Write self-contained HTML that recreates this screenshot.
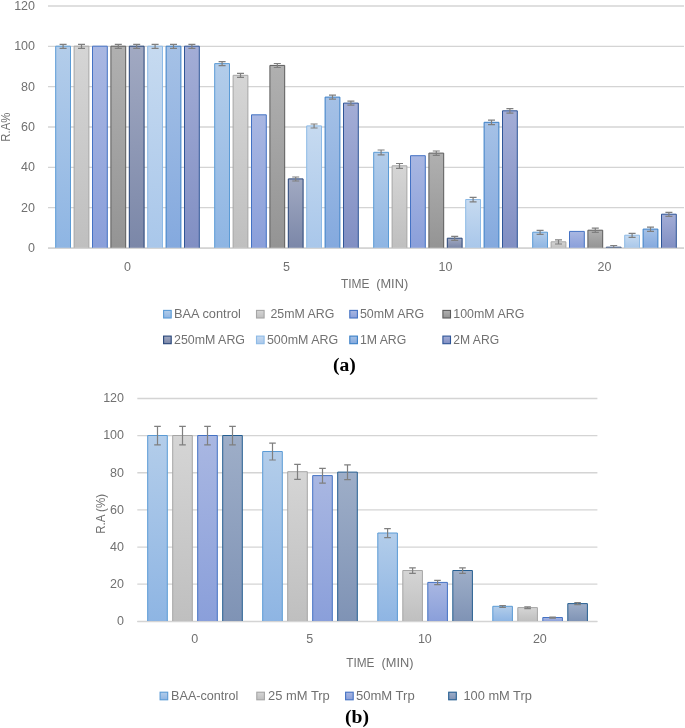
<!DOCTYPE html>
<html><head><meta charset="utf-8"><style>
html,body{margin:0;padding:0;background:#fff;width:685px;height:728px;overflow:hidden}
svg{display:block;will-change:transform}
.e{stroke:#7f7f7f;stroke-width:1.2;fill:none}
</style></head><body>
<svg width="685" height="728" viewBox="0 0 685 728">
<defs><linearGradient id="ag0" x2="0" y2="1"><stop offset="0" stop-color="#b3cdea"/><stop offset="1" stop-color="#8eb5e3"/></linearGradient>
<linearGradient id="ag1" x2="0" y2="1"><stop offset="0" stop-color="#d5d5d5"/><stop offset="1" stop-color="#bfbfbf"/></linearGradient>
<linearGradient id="ag2" x2="0" y2="1"><stop offset="0" stop-color="#a9b7e2"/><stop offset="1" stop-color="#8a9fda"/></linearGradient>
<linearGradient id="ag3" x2="0" y2="1"><stop offset="0" stop-color="#b0b0b0"/><stop offset="1" stop-color="#949494"/></linearGradient>
<linearGradient id="ag4" x2="0" y2="1"><stop offset="0" stop-color="#a1a9c2"/><stop offset="1" stop-color="#7b87a8"/></linearGradient>
<linearGradient id="ag5" x2="0" y2="1"><stop offset="0" stop-color="#c6daf0"/><stop offset="1" stop-color="#a9c7ea"/></linearGradient>
<linearGradient id="ag6" x2="0" y2="1"><stop offset="0" stop-color="#a5c1e6"/><stop offset="1" stop-color="#84a9de"/></linearGradient>
<linearGradient id="ag7" x2="0" y2="1"><stop offset="0" stop-color="#a3add6"/><stop offset="1" stop-color="#818fc3"/></linearGradient>
<linearGradient id="bg0" x2="0" y2="1"><stop offset="0" stop-color="#b3cdea"/><stop offset="1" stop-color="#8eb5e3"/></linearGradient>
<linearGradient id="bg1" x2="0" y2="1"><stop offset="0" stop-color="#d5d5d5"/><stop offset="1" stop-color="#bfbfbf"/></linearGradient>
<linearGradient id="bg2" x2="0" y2="1"><stop offset="0" stop-color="#a9b7e2"/><stop offset="1" stop-color="#8a9fda"/></linearGradient>
<linearGradient id="bg3" x2="0" y2="1"><stop offset="0" stop-color="#9eaec8"/><stop offset="1" stop-color="#7f93b5"/></linearGradient>
</defs>
<line x1="48" y1="248.00" x2="684" y2="248.00" stroke="#d4d4d4" stroke-width="1.3"/>
<line x1="48" y1="207.67" x2="684" y2="207.67" stroke="#d4d4d4" stroke-width="1.3"/>
<line x1="48" y1="167.33" x2="684" y2="167.33" stroke="#d4d4d4" stroke-width="1.3"/>
<line x1="48" y1="127.00" x2="684" y2="127.00" stroke="#d4d4d4" stroke-width="1.3"/>
<line x1="48" y1="86.67" x2="684" y2="86.67" stroke="#d4d4d4" stroke-width="1.3"/>
<line x1="48" y1="46.33" x2="684" y2="46.33" stroke="#d4d4d4" stroke-width="1.3"/>
<line x1="48" y1="6.00" x2="684" y2="6.00" stroke="#d4d4d4" stroke-width="1.3"/>
<rect x="55.7" y="46.2" width="14.8" height="201.8" fill="url(#ag0)"/><path d="M55.7 248.0V46.2H70.5V248.0" fill="none" stroke="#5b9bd5"/>
<rect x="74.1" y="46.2" width="14.8" height="201.8" fill="url(#ag1)"/><path d="M74.1 248.0V46.2H88.9V248.0" fill="none" stroke="#a5a5a5"/>
<rect x="92.5" y="46.2" width="14.8" height="201.8" fill="url(#ag2)"/><path d="M92.5 248.0V46.2H107.3V248.0" fill="none" stroke="#4472c4"/>
<rect x="110.9" y="46.2" width="14.8" height="201.8" fill="url(#ag3)"/><path d="M110.9 248.0V46.2H125.7V248.0" fill="none" stroke="#5c5c5c"/>
<rect x="129.3" y="46.2" width="14.8" height="201.8" fill="url(#ag4)"/><path d="M129.3 248.0V46.2H144.1V248.0" fill="none" stroke="#264478"/>
<rect x="147.7" y="46.2" width="14.8" height="201.8" fill="url(#ag5)"/><path d="M147.7 248.0V46.2H162.5V248.0" fill="none" stroke="#8dbae6"/>
<rect x="166.1" y="46.2" width="14.8" height="201.8" fill="url(#ag6)"/><path d="M166.1 248.0V46.2H180.9V248.0" fill="none" stroke="#3a7fc6"/>
<rect x="184.5" y="46.2" width="14.8" height="201.8" fill="url(#ag7)"/><path d="M184.5 248.0V46.2H199.3V248.0" fill="none" stroke="#2f5597"/>
<rect x="214.7" y="63.6" width="14.8" height="184.4" fill="url(#ag0)"/><path d="M214.7 248.0V63.6H229.5V248.0" fill="none" stroke="#5b9bd5"/>
<rect x="233.1" y="75.3" width="14.8" height="172.7" fill="url(#ag1)"/><path d="M233.1 248.0V75.3H247.9V248.0" fill="none" stroke="#a5a5a5"/>
<rect x="251.5" y="114.8" width="14.8" height="133.2" fill="url(#ag2)"/><path d="M251.5 248.0V114.8H266.3V248.0" fill="none" stroke="#4472c4"/>
<rect x="269.9" y="65.4" width="14.8" height="182.6" fill="url(#ag3)"/><path d="M269.9 248.0V65.4H284.7V248.0" fill="none" stroke="#5c5c5c"/>
<rect x="288.3" y="178.9" width="14.8" height="69.1" fill="url(#ag4)"/><path d="M288.3 248.0V178.9H303.1V248.0" fill="none" stroke="#264478"/>
<rect x="306.7" y="125.9" width="14.8" height="122.1" fill="url(#ag5)"/><path d="M306.7 248.0V125.9H321.5V248.0" fill="none" stroke="#8dbae6"/>
<rect x="325.1" y="97.1" width="14.8" height="150.9" fill="url(#ag6)"/><path d="M325.1 248.0V97.1H339.9V248.0" fill="none" stroke="#3a7fc6"/>
<rect x="343.5" y="103.1" width="14.8" height="144.9" fill="url(#ag7)"/><path d="M343.5 248.0V103.1H358.3V248.0" fill="none" stroke="#2f5597"/>
<rect x="373.7" y="152.3" width="14.8" height="95.7" fill="url(#ag0)"/><path d="M373.7 248.0V152.3H388.5V248.0" fill="none" stroke="#5b9bd5"/>
<rect x="392.1" y="165.8" width="14.8" height="82.2" fill="url(#ag1)"/><path d="M392.1 248.0V165.8H406.9V248.0" fill="none" stroke="#a5a5a5"/>
<rect x="410.5" y="155.7" width="14.8" height="92.3" fill="url(#ag2)"/><path d="M410.5 248.0V155.7H425.3V248.0" fill="none" stroke="#4472c4"/>
<rect x="428.9" y="153.1" width="14.8" height="94.9" fill="url(#ag3)"/><path d="M428.9 248.0V153.1H443.7V248.0" fill="none" stroke="#5c5c5c"/>
<rect x="447.3" y="238.2" width="14.8" height="9.8" fill="url(#ag4)"/><path d="M447.3 248.0V238.2H462.1V248.0" fill="none" stroke="#264478"/>
<rect x="465.7" y="199.5" width="14.8" height="48.5" fill="url(#ag5)"/><path d="M465.7 248.0V199.5H480.5V248.0" fill="none" stroke="#8dbae6"/>
<rect x="484.1" y="122.3" width="14.8" height="125.7" fill="url(#ag6)"/><path d="M484.1 248.0V122.3H498.9V248.0" fill="none" stroke="#3a7fc6"/>
<rect x="502.5" y="110.8" width="14.8" height="137.2" fill="url(#ag7)"/><path d="M502.5 248.0V110.8H517.3V248.0" fill="none" stroke="#2f5597"/>
<rect x="532.7" y="232.2" width="14.8" height="15.8" fill="url(#ag0)"/><path d="M532.7 248.0V232.2H547.5V248.0" fill="none" stroke="#5b9bd5"/>
<rect x="551.1" y="241.8" width="14.8" height="6.2" fill="url(#ag1)"/><path d="M551.1 248.0V241.8H565.9V248.0" fill="none" stroke="#a5a5a5"/>
<rect x="569.5" y="231.4" width="14.8" height="16.6" fill="url(#ag2)"/><path d="M569.5 248.0V231.4H584.3V248.0" fill="none" stroke="#4472c4"/>
<rect x="587.9" y="230.2" width="14.8" height="17.8" fill="url(#ag3)"/><path d="M587.9 248.0V230.2H602.7V248.0" fill="none" stroke="#5c5c5c"/>
<rect x="606.3" y="247.2" width="14.8" height="0.8" fill="url(#ag4)"/><path d="M606.3 248.0V247.2H621.1V248.0" fill="none" stroke="#264478"/>
<rect x="624.7" y="235.2" width="14.8" height="12.8" fill="url(#ag5)"/><path d="M624.7 248.0V235.2H639.5V248.0" fill="none" stroke="#8dbae6"/>
<rect x="643.1" y="229.1" width="14.8" height="18.9" fill="url(#ag6)"/><path d="M643.1 248.0V229.1H657.9V248.0" fill="none" stroke="#3a7fc6"/>
<rect x="661.5" y="214.2" width="14.8" height="33.8" fill="url(#ag7)"/><path d="M661.5 248.0V214.2H676.3V248.0" fill="none" stroke="#2f5597"/>
<line x1="48" y1="248.30" x2="684" y2="248.30" stroke="#d4d4d4" stroke-width="1.3"/>
<path class="e" d="M63.1 44.3V48.3M59.6 44.3h7M59.6 48.3h7"/>
<path class="e" d="M81.5 44.3V48.3M78.0 44.3h7M78.0 48.3h7"/>
<path class="e" d="M118.3 44.3V48.3M114.8 44.3h7M114.8 48.3h7"/>
<path class="e" d="M136.7 44.3V48.3M133.2 44.3h7M133.2 48.3h7"/>
<path class="e" d="M155.1 44.3V48.3M151.6 44.3h7M151.6 48.3h7"/>
<path class="e" d="M173.5 44.3V48.3M170.0 44.3h7M170.0 48.3h7"/>
<path class="e" d="M191.9 44.3V48.3M188.4 44.3h7M188.4 48.3h7"/>
<path class="e" d="M222.1 61.7V65.7M218.6 61.7h7M218.6 65.7h7"/>
<path class="e" d="M240.5 73.4V77.4M237.0 73.4h7M237.0 77.4h7"/>
<path class="e" d="M277.3 63.5V67.5M273.8 63.5h7M273.8 67.5h7"/>
<path class="e" d="M295.7 177.0V181.0M292.2 177.0h7M292.2 181.0h7"/>
<path class="e" d="M314.1 124.0V128.0M310.6 124.0h7M310.6 128.0h7"/>
<path class="e" d="M332.5 95.1V99.2M329.0 95.1h7M329.0 99.2h7"/>
<path class="e" d="M350.9 101.2V105.2M347.4 101.2h7M347.4 105.2h7"/>
<path class="e" d="M381.1 150.0V154.8M377.6 150.0h7M377.6 154.8h7"/>
<path class="e" d="M399.5 163.5V168.3M396.0 163.5h7M396.0 168.3h7"/>
<path class="e" d="M436.3 151.0V155.4M432.8 151.0h7M432.8 155.4h7"/>
<path class="e" d="M454.7 236.3V240.3M451.2 236.3h7M451.2 240.3h7"/>
<path class="e" d="M473.1 197.4V201.8M469.6 197.4h7M469.6 201.8h7"/>
<path class="e" d="M491.5 120.1V124.6M488.0 120.1h7M488.0 124.6h7"/>
<path class="e" d="M509.9 108.6V113.1M506.4 108.6h7M506.4 113.1h7"/>
<path class="e" d="M540.1 230.3V234.3M536.6 230.3h7M536.6 234.3h7"/>
<path class="e" d="M558.5 239.9V244.0M555.0 239.9h7M555.0 244.0h7"/>
<path class="e" d="M595.3 228.2V232.3M591.8 228.2h7M591.8 232.3h7"/>
<path class="e" d="M613.7 245.5V248.0M610.2 245.5h7"/>
<path class="e" d="M632.1 233.3V237.3M628.6 233.3h7M628.6 237.3h7"/>
<path class="e" d="M650.5 227.2V231.3M647.0 227.2h7M647.0 231.3h7"/>
<path class="e" d="M668.9 212.3V216.3M665.4 212.3h7M665.4 216.3h7"/>
<line x1="137.3" y1="621.30" x2="597.4" y2="621.30" stroke="#d4d4d4" stroke-width="1.3"/>
<line x1="137.3" y1="584.17" x2="597.4" y2="584.17" stroke="#d4d4d4" stroke-width="1.3"/>
<line x1="137.3" y1="547.03" x2="597.4" y2="547.03" stroke="#d4d4d4" stroke-width="1.3"/>
<line x1="137.3" y1="509.90" x2="597.4" y2="509.90" stroke="#d4d4d4" stroke-width="1.3"/>
<line x1="137.3" y1="472.77" x2="597.4" y2="472.77" stroke="#d4d4d4" stroke-width="1.3"/>
<line x1="137.3" y1="435.63" x2="597.4" y2="435.63" stroke="#d4d4d4" stroke-width="1.3"/>
<line x1="137.3" y1="398.50" x2="597.4" y2="398.50" stroke="#d4d4d4" stroke-width="1.3"/>
<rect x="147.7" y="435.5" width="19.6" height="185.8" fill="url(#bg0)"/><path d="M147.7 621.3V435.5H167.3V621.3" fill="none" stroke="#5b9bd5"/>
<rect x="172.7" y="435.5" width="19.6" height="185.8" fill="url(#bg1)"/><path d="M172.7 621.3V435.5H192.3V621.3" fill="none" stroke="#a5a5a5"/>
<rect x="197.7" y="435.5" width="19.6" height="185.8" fill="url(#bg2)"/><path d="M197.7 621.3V435.5H217.3V621.3" fill="none" stroke="#4472c4"/>
<rect x="222.7" y="435.5" width="19.6" height="185.8" fill="url(#bg3)"/><path d="M222.7 621.3V435.5H242.3V621.3" fill="none" stroke="#255e91"/>
<rect x="262.7" y="451.5" width="19.6" height="169.8" fill="url(#bg0)"/><path d="M262.7 621.3V451.5H282.3V621.3" fill="none" stroke="#5b9bd5"/>
<rect x="287.7" y="471.7" width="19.6" height="149.6" fill="url(#bg1)"/><path d="M287.7 621.3V471.7H307.3V621.3" fill="none" stroke="#a5a5a5"/>
<rect x="312.7" y="475.6" width="19.6" height="145.7" fill="url(#bg2)"/><path d="M312.7 621.3V475.6H332.3V621.3" fill="none" stroke="#4472c4"/>
<rect x="337.7" y="472.1" width="19.6" height="149.2" fill="url(#bg3)"/><path d="M337.7 621.3V472.1H357.3V621.3" fill="none" stroke="#255e91"/>
<rect x="377.8" y="533.0" width="19.6" height="88.3" fill="url(#bg0)"/><path d="M377.8 621.3V533.0H397.4V621.3" fill="none" stroke="#5b9bd5"/>
<rect x="402.8" y="570.5" width="19.6" height="50.8" fill="url(#bg1)"/><path d="M402.8 621.3V570.5H422.4V621.3" fill="none" stroke="#a5a5a5"/>
<rect x="427.8" y="582.4" width="19.6" height="38.9" fill="url(#bg2)"/><path d="M427.8 621.3V582.4H447.4V621.3" fill="none" stroke="#4472c4"/>
<rect x="452.8" y="570.5" width="19.6" height="50.8" fill="url(#bg3)"/><path d="M452.8 621.3V570.5H472.4V621.3" fill="none" stroke="#255e91"/>
<rect x="492.8" y="606.3" width="19.6" height="15.0" fill="url(#bg0)"/><path d="M492.8 621.3V606.3H512.4V621.3" fill="none" stroke="#5b9bd5"/>
<rect x="517.8" y="607.6" width="19.6" height="13.7" fill="url(#bg1)"/><path d="M517.8 621.3V607.6H537.4V621.3" fill="none" stroke="#a5a5a5"/>
<rect x="542.8" y="617.5" width="19.6" height="3.8" fill="url(#bg2)"/><path d="M542.8 621.3V617.5H562.4V621.3" fill="none" stroke="#4472c4"/>
<rect x="567.8" y="603.6" width="19.6" height="17.7" fill="url(#bg3)"/><path d="M567.8 621.3V603.6H587.4V621.3" fill="none" stroke="#255e91"/>
<line x1="137.3" y1="621.60" x2="597.4" y2="621.60" stroke="#d4d4d4" stroke-width="1.3"/>
<path class="e" d="M157.5 426.4V444.9M154.2 426.4h6.6M154.2 444.9h6.6"/>
<path class="e" d="M182.5 426.4V444.9M179.2 426.4h6.6M179.2 444.9h6.6"/>
<path class="e" d="M207.5 426.4V444.9M204.2 426.4h6.6M204.2 444.9h6.6"/>
<path class="e" d="M232.5 426.4V444.9M229.2 426.4h6.6M229.2 444.9h6.6"/>
<path class="e" d="M272.5 443.2V460.0M269.2 443.2h6.6M269.2 460.0h6.6"/>
<path class="e" d="M297.5 464.4V479.3M294.2 464.4h6.6M294.2 479.3h6.6"/>
<path class="e" d="M322.5 468.3V483.2M319.2 468.3h6.6M319.2 483.2h6.6"/>
<path class="e" d="M347.5 464.8V479.6M344.2 464.8h6.6M344.2 479.6h6.6"/>
<path class="e" d="M387.6 528.6V537.7M384.2 528.6h6.6M384.2 537.7h6.6"/>
<path class="e" d="M412.6 567.8V573.4M409.2 567.8h6.6M409.2 573.4h6.6"/>
<path class="e" d="M437.6 580.3V584.7M434.2 580.3h6.6M434.2 584.7h6.6"/>
<path class="e" d="M462.6 567.8V573.4M459.2 567.8h6.6M459.2 573.4h6.6"/>
<path class="e" d="M502.6 605.5V607.4M499.3 605.5h6.6M499.3 607.4h6.6"/>
<path class="e" d="M527.6 606.8V608.7M524.3 606.8h6.6M524.3 608.7h6.6"/>
<path class="e" d="M552.6 617.0V618.1M549.3 617.0h6.6M549.3 618.1h6.6"/>
<path class="e" d="M577.6 602.7V604.6M574.3 602.7h6.6M574.3 604.6h6.6"/>
<text x="35" y="251.90" font-size="12.5" text-anchor="end" fill="#717171" font-family='"Liberation Sans", sans-serif' font-weight="normal" >0</text>
<text x="35" y="211.57" font-size="12.5" text-anchor="end" fill="#717171" font-family='"Liberation Sans", sans-serif' font-weight="normal" >20</text>
<text x="35" y="171.23" font-size="12.5" text-anchor="end" fill="#717171" font-family='"Liberation Sans", sans-serif' font-weight="normal" >40</text>
<text x="35" y="130.90" font-size="12.5" text-anchor="end" fill="#717171" font-family='"Liberation Sans", sans-serif' font-weight="normal" >60</text>
<text x="35" y="90.57" font-size="12.5" text-anchor="end" fill="#717171" font-family='"Liberation Sans", sans-serif' font-weight="normal" >80</text>
<text x="35" y="50.23" font-size="12.5" text-anchor="end" fill="#717171" font-family='"Liberation Sans", sans-serif' font-weight="normal" >100</text>
<text x="35" y="9.90" font-size="12.5" text-anchor="end" fill="#717171" font-family='"Liberation Sans", sans-serif' font-weight="normal" >120</text>
<text x="124" y="625.20" font-size="12.5" text-anchor="end" fill="#717171" font-family='"Liberation Sans", sans-serif' font-weight="normal" >0</text>
<text x="124" y="588.05" font-size="12.5" text-anchor="end" fill="#717171" font-family='"Liberation Sans", sans-serif' font-weight="normal" >20</text>
<text x="124" y="550.90" font-size="12.5" text-anchor="end" fill="#717171" font-family='"Liberation Sans", sans-serif' font-weight="normal" >40</text>
<text x="124" y="513.75" font-size="12.5" text-anchor="end" fill="#717171" font-family='"Liberation Sans", sans-serif' font-weight="normal" >60</text>
<text x="124" y="476.60" font-size="12.5" text-anchor="end" fill="#717171" font-family='"Liberation Sans", sans-serif' font-weight="normal" >80</text>
<text x="124" y="439.45" font-size="12.5" text-anchor="end" fill="#717171" font-family='"Liberation Sans", sans-serif' font-weight="normal" >100</text>
<text x="124" y="402.30" font-size="12.5" text-anchor="end" fill="#717171" font-family='"Liberation Sans", sans-serif' font-weight="normal" >120</text>
<text x="127.50" y="270.8" font-size="12.5" text-anchor="middle" fill="#717171" font-family='"Liberation Sans", sans-serif' font-weight="normal" >0</text>
<text x="194.81" y="642.7" font-size="12.5" text-anchor="middle" fill="#717171" font-family='"Liberation Sans", sans-serif' font-weight="normal" >0</text>
<text x="286.50" y="270.8" font-size="12.5" text-anchor="middle" fill="#717171" font-family='"Liberation Sans", sans-serif' font-weight="normal" >5</text>
<text x="309.84" y="642.7" font-size="12.5" text-anchor="middle" fill="#717171" font-family='"Liberation Sans", sans-serif' font-weight="normal" >5</text>
<text x="445.50" y="270.8" font-size="12.5" text-anchor="middle" fill="#717171" font-family='"Liberation Sans", sans-serif' font-weight="normal" >10</text>
<text x="424.86" y="642.7" font-size="12.5" text-anchor="middle" fill="#717171" font-family='"Liberation Sans", sans-serif' font-weight="normal" >10</text>
<text x="604.50" y="270.8" font-size="12.5" text-anchor="middle" fill="#717171" font-family='"Liberation Sans", sans-serif' font-weight="normal" >20</text>
<text x="539.89" y="642.7" font-size="12.5" text-anchor="middle" fill="#717171" font-family='"Liberation Sans", sans-serif' font-weight="normal" >20</text>
<text x="340.9" y="287.9" font-size="12" text-anchor="start" fill="#717171" font-family='"Liberation Sans", sans-serif' font-weight="normal" textLength="28.6" lengthAdjust="spacingAndGlyphs" >TIME</text>
<text x="376.2" y="287.9" font-size="12" text-anchor="start" fill="#717171" font-family='"Liberation Sans", sans-serif' font-weight="normal" textLength="32.0" lengthAdjust="spacingAndGlyphs" >(MIN)</text>
<text x="346.2" y="666.5" font-size="12" text-anchor="start" fill="#717171" font-family='"Liberation Sans", sans-serif' font-weight="normal" textLength="28.2" lengthAdjust="spacingAndGlyphs" >TIME</text>
<text x="381.5" y="666.5" font-size="12" text-anchor="start" fill="#717171" font-family='"Liberation Sans", sans-serif' font-weight="normal" textLength="32.0" lengthAdjust="spacingAndGlyphs" >(MIN)</text>
<text transform="translate(10.3,141.7) rotate(-90)" font-size="12.5" fill="#717171" font-family='"Liberation Sans", sans-serif' textLength="29" lengthAdjust="spacingAndGlyphs">R.A%</text>
<text transform="translate(105.2,533.8) rotate(-90)" font-size="12.5" fill="#717171" font-family='"Liberation Sans", sans-serif' textLength="39.8" lengthAdjust="spacingAndGlyphs">R.A (%)</text>
<rect x="163.6" y="310.4" width="7.6" height="7.6" fill="url(#ag0)" stroke="#5b9bd5" stroke-width="1.1"/>
<text x="174.0" y="318.4" font-size="13" text-anchor="start" fill="#717171" font-family='"Liberation Sans", sans-serif' font-weight="normal" textLength="66.89999999999999" lengthAdjust="spacingAndGlyphs" >BAA control</text>
<rect x="256.5" y="310.4" width="7.6" height="7.6" fill="url(#ag1)" stroke="#a5a5a5" stroke-width="1.1"/>
<text x="270.4" y="318.4" font-size="13" text-anchor="start" fill="#717171" font-family='"Liberation Sans", sans-serif' font-weight="normal" textLength="63.9" lengthAdjust="spacingAndGlyphs" >25mM ARG</text>
<rect x="349.8" y="310.4" width="7.6" height="7.6" fill="url(#ag2)" stroke="#4472c4" stroke-width="1.1"/>
<text x="359.9" y="318.4" font-size="13" text-anchor="start" fill="#717171" font-family='"Liberation Sans", sans-serif' font-weight="normal" textLength="64.2" lengthAdjust="spacingAndGlyphs" >50mM ARG</text>
<rect x="442.9" y="310.4" width="7.6" height="7.6" fill="url(#ag3)" stroke="#5c5c5c" stroke-width="1.1"/>
<text x="453.3" y="318.4" font-size="13" text-anchor="start" fill="#717171" font-family='"Liberation Sans", sans-serif' font-weight="normal" textLength="71.0" lengthAdjust="spacingAndGlyphs" >100mM ARG</text>
<rect x="163.6" y="336.09999999999997" width="7.6" height="7.6" fill="url(#ag4)" stroke="#264478" stroke-width="1.1"/>
<text x="174.0" y="344.0" font-size="13" text-anchor="start" fill="#717171" font-family='"Liberation Sans", sans-serif' font-weight="normal" textLength="71.0" lengthAdjust="spacingAndGlyphs" >250mM ARG</text>
<rect x="256.5" y="336.09999999999997" width="7.6" height="7.6" fill="url(#ag5)" stroke="#8dbae6" stroke-width="1.1"/>
<text x="266.9" y="344.0" font-size="13" text-anchor="start" fill="#717171" font-family='"Liberation Sans", sans-serif' font-weight="normal" textLength="71.19999999999999" lengthAdjust="spacingAndGlyphs" >500mM ARG</text>
<rect x="349.8" y="336.09999999999997" width="7.6" height="7.6" fill="url(#ag6)" stroke="#3a7fc6" stroke-width="1.1"/>
<text x="359.9" y="344.0" font-size="13" text-anchor="start" fill="#717171" font-family='"Liberation Sans", sans-serif' font-weight="normal" textLength="46.4" lengthAdjust="spacingAndGlyphs" >1M ARG</text>
<rect x="442.9" y="336.09999999999997" width="7.6" height="7.6" fill="url(#ag7)" stroke="#2f5597" stroke-width="1.1"/>
<text x="453.3" y="344.0" font-size="13" text-anchor="start" fill="#717171" font-family='"Liberation Sans", sans-serif' font-weight="normal" textLength="45.800000000000004" lengthAdjust="spacingAndGlyphs" >2M ARG</text>
<rect x="160.1" y="692.2" width="7.6" height="7.6" fill="url(#bg0)" stroke="#5b9bd5" stroke-width="1.1"/>
<text x="171.10000000000002" y="700.4" font-size="13" text-anchor="start" fill="#717171" font-family='"Liberation Sans", sans-serif' font-weight="normal" textLength="67.30000000000001" lengthAdjust="spacingAndGlyphs" >BAA-control</text>
<rect x="256.8" y="692.2" width="7.6" height="7.6" fill="url(#bg1)" stroke="#a5a5a5" stroke-width="1.1"/>
<text x="268.0" y="700.4" font-size="13" text-anchor="start" fill="#717171" font-family='"Liberation Sans", sans-serif' font-weight="normal" textLength="61.8" lengthAdjust="spacingAndGlyphs" >25 mM Trp</text>
<rect x="345.6" y="692.2" width="7.6" height="7.6" fill="url(#bg2)" stroke="#4472c4" stroke-width="1.1"/>
<text x="355.90000000000003" y="700.4" font-size="13" text-anchor="start" fill="#717171" font-family='"Liberation Sans", sans-serif' font-weight="normal" textLength="58.8" lengthAdjust="spacingAndGlyphs" >50mM Trp</text>
<rect x="448.7" y="692.2" width="7.6" height="7.6" fill="url(#bg3)" stroke="#255e91" stroke-width="1.1"/>
<text x="463.40000000000003" y="700.4" font-size="13" text-anchor="start" fill="#717171" font-family='"Liberation Sans", sans-serif' font-weight="normal" textLength="68.5" lengthAdjust="spacingAndGlyphs" >100 mM Trp</text>
<text x="333.0" y="371.1" font-size="19.6" text-anchor="start" fill="#000" font-family='"Liberation Serif", serif' font-weight="bold" >(a)</text>
<text x="345.0" y="723.3" font-size="19.6" text-anchor="start" fill="#000" font-family='"Liberation Serif", serif' font-weight="bold" >(b)</text>
</svg>
</body></html>
